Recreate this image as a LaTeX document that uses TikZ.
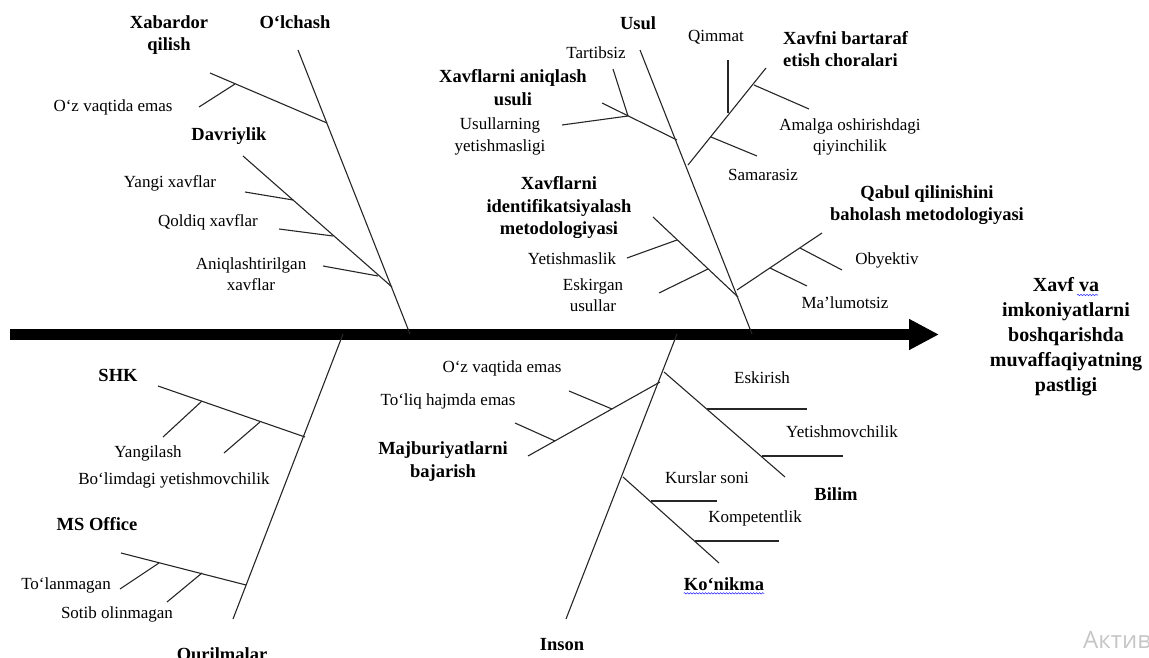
\documentclass[tikz,border=0pt]{standalone}
\usepackage{fontspec}
\setmainfont{Liberation Serif}
\newfontfamily\wmfont{Open Sans}
\usepackage{tikz}
\usetikzlibrary{
    arrows.meta,
    decorations.pathmorphing
}
\tikzstyle{bone} = [
    line width=1.1pt,
    draw=black!85
]
\tikzstyle{spine} = [
    line width=11pt,
    -{Triangle[length=30pt,width=29pt]}
]
\tikzstyle{cause} = [
    inner sep=0pt,
    align=center,
    font=\fontsize{18.5}{22.5}\selectfont\bfseries
]
\tikzstyle{item} = [
    inner sep=0pt,
    align=center,
    font=\fontsize{17}{21.5}\selectfont
]
\tikzstyle{effect} = [
    inner sep=0pt,
    align=center,
    font=\fontsize{20}{25}\selectfont\bfseries
]
\tikzstyle{spell} = [
    draw=blue!80,
    line width=0.6pt,
    decorate,
    decoration={snake, amplitude=0.7pt, segment length=3pt}
]
\tikzstyle{watermark} = [
    inner sep=0pt,
    text=gray!45,
    font=\wmfont\fontsize{24}{28}\selectfont
]

\begin{document}
\begin{tikzpicture}[x=1pt, y=-1pt]
        \useasboundingbox (0,0) rectangle (1149,658);

        % Spine and effect
        \coordinate (tail) at (10,334.5);
        \coordinate (head) at (939,334.5);
        \draw[spine] (tail) -- (head);
        \node[effect] (problem) at (1066,337) {Xavf va\\imkoniyatlarni\\boshqarishda\\muvaffaqiyatning\\pastligi};
        \coordinate (va_l) at (1077,295);
        \coordinate (va_r) at (1098,295);
        \draw[spell] (va_l) -- (va_r);

        % O'lchash
        \coordinate (olch_top) at (298,50);   \coordinate (olch_end) at (410,334);
        \coordinate (xab_top) at (210,73);    \coordinate (xab_end) at (327,123);
        \coordinate (xab1_top) at (199,107);  \coordinate (xab1_end) at (235,84);
        \coordinate (dav_top) at (243,156);   \coordinate (dav_end) at (392,287);
        \coordinate (dav1_top) at (245,192);  \coordinate (dav1_end) at (293,200);
        \coordinate (dav2_top) at (279,229);  \coordinate (dav2_end) at (333,236);
        \coordinate (dav3_top) at (323,266);  \coordinate (dav3_end) at (378,276);
        \draw[bone] (olch_top) -- (olch_end);
        \draw[bone] (xab_top) -- (xab_end);
        \draw[bone] (xab1_top) -- (xab1_end);
        \draw[bone] (dav_top) -- (dav_end);
        \draw[bone] (dav1_top) -- (dav1_end);
        \draw[bone] (dav2_top) -- (dav2_end);
        \draw[bone] (dav3_top) -- (dav3_end);
        \node[cause] (olchash) at (295,22) {O‘lchash};
        \node[cause] (xabardor) at (169,35) {Xabardor\\qilish};
        \node[item] (xab_late) at (113,107) {O‘z vaqtida emas};
        \node[cause] (davriylik) at (229,136) {Davriylik};
        \node[item] (yangi) at (170,183) {Yangi xavflar};
        \node[item] (qoldiq) at (208,222) {Qoldiq xavflar};
        \node[item] (aniq) at (251,274) {Aniqlashtirilgan\\xavflar};

        % Usul
        \coordinate (usul_top) at (640,50);   \coordinate (usul_end) at (752,334);
        \coordinate (xan_top) at (602,103);   \coordinate (xan_end) at (677,140);
        \coordinate (tart_top) at (613,69);   \coordinate (xan_j) at (628,116);
        \coordinate (usl_top) at (562,125);
        \coordinate (bart_top) at (766,68);   \coordinate (bart_end) at (688,165);
        \coordinate (qim_top) at (728,60);    \coordinate (qim_end) at (728,113);
        \coordinate (amal_top) at (809,109);  \coordinate (amal_end) at (754,85);
        \coordinate (sam_top) at (757,156);   \coordinate (sam_end) at (711,137);
        \coordinate (idn_top) at (653,217);   \coordinate (idn_end) at (738,297);
        \coordinate (yet_top) at (627,258);   \coordinate (yet_end) at (677,240);
        \coordinate (esk_top) at (659,293);   \coordinate (esk_end) at (708,269);
        \coordinate (qab_top) at (822,233);   \coordinate (qab_end) at (737,290);
        \coordinate (oby_top) at (842,270);   \coordinate (oby_end) at (800,248);
        \coordinate (mal_top) at (807,286);   \coordinate (mal_end) at (770,268);
        \draw[bone] (usul_top) -- (usul_end);
        \draw[bone] (xan_top) -- (xan_end);
        \draw[bone] (tart_top) -- (xan_j);
        \draw[bone] (usl_top) -- (xan_j);
        \draw[bone] (bart_top) -- (bart_end);
        \draw[bone] (qim_top) -- (qim_end);
        \draw[bone] (amal_top) -- (amal_end);
        \draw[bone] (sam_top) -- (sam_end);
        \draw[bone] (idn_top) -- (idn_end);
        \draw[bone] (yet_top) -- (yet_end);
        \draw[bone] (esk_top) -- (esk_end);
        \draw[bone] (qab_top) -- (qab_end);
        \draw[bone] (oby_top) -- (oby_end);
        \draw[bone] (mal_top) -- (mal_end);
        \node[cause] (usul) at (638,23) {Usul};
        \node[item] (tartibsiz) at (596,53) {Tartibsiz};
        \node[cause] (xav_aniq) at (513,87.5) {Xavflarni aniqlash\\usuli};
        \node[item] (usullar) at (500,136.5) {Usullarning\\yetishmasligi};
        \node[item] (qimmat) at (716,37) {Qimmat};
        \node[cause, align=left, anchor=west] (bartaraf) at (783,49) {Xavfni bartaraf\\etish choralari};
        \node[item] (amalga) at (850,137) {Amalga oshirishdagi\\qiyinchilik};
        \node[item] (samarasiz) at (763,175) {Samarasiz};
        \node[cause] (identif) at (559,208) {Xavflarni\\identifikatsiyalash\\metodologiyasi};
        \node[item] (yetish) at (572,259) {Yetishmaslik};
        \node[item] (eskirgan) at (593,295) {Eskirgan\\usullar};
        \node[cause] (qabul) at (927,205) {Qabul qilinishini\\baholash metodologiyasi};
        \node[item] (obyektiv) at (887,260) {Obyektiv};
        \node[item] (malumot) at (845,303) {Ma’lumotsiz};

        % Qurilmalar
        \coordinate (qur_top) at (343,334);   \coordinate (qur_end) at (233,619);
        \coordinate (shk_top) at (158,386);   \coordinate (shk_end) at (305,437);
        \coordinate (yan_top) at (163,437);   \coordinate (yan_end) at (202,401);
        \coordinate (bol_top) at (224,453);   \coordinate (bol_end) at (260,422);
        \coordinate (mso_top) at (121,553);   \coordinate (mso_end) at (246,585);
        \coordinate (tol_top) at (120,589);   \coordinate (tol_end) at (159,563);
        \coordinate (sot_top) at (167,602);   \coordinate (sot_end) at (202,573);
        \draw[bone] (qur_top) -- (qur_end);
        \draw[bone] (shk_top) -- (shk_end);
        \draw[bone] (yan_top) -- (yan_end);
        \draw[bone] (bol_top) -- (bol_end);
        \draw[bone] (mso_top) -- (mso_end);
        \draw[bone] (tol_top) -- (tol_end);
        \draw[bone] (sot_top) -- (sot_end);
        \node[cause] (shk) at (118,375) {SHK};
        \node[item] (yangilash) at (148,453) {Yangilash};
        \node[item] (bolim) at (174,480) {Bo‘limdagi yetishmovchilik};
        \node[cause] (msoffice) at (97,524) {MS Office};
        \node[item] (tolan) at (66,585) {To‘lanmagan};
        \node[item] (sotib) at (117,614) {Sotib olinmagan};
        \node[cause, anchor=base] (qurilmalar) at (222,660) {Qurilmalar};

        % Inson
        \coordinate (ins_top) at (677,334);   \coordinate (ins_end) at (566,619);
        \coordinate (maj_top) at (528,456);   \coordinate (maj_end) at (660,382);
        \coordinate (ozv_top) at (569,391);   \coordinate (ozv_end) at (612,409);
        \coordinate (tol2_top) at (515,423);  \coordinate (tol2_end) at (555,441);
        \coordinate (bil_top) at (664,372);   \coordinate (bil_end) at (785,477);
        \coordinate (eskr_l) at (707,409);    \coordinate (eskr_r) at (807,409);
        \coordinate (ytm_l) at (762,456);     \coordinate (ytm_r) at (843,456);
        \coordinate (kon_top) at (623,477);   \coordinate (kon_end) at (719,563);
        \coordinate (kur_l) at (651,501);     \coordinate (kur_r) at (717,501);
        \coordinate (kom_l) at (695,541);     \coordinate (kom_r) at (779,541);
        \draw[bone] (ins_top) -- (ins_end);
        \draw[bone] (maj_top) -- (maj_end);
        \draw[bone] (ozv_top) -- (ozv_end);
        \draw[bone] (tol2_top) -- (tol2_end);
        \draw[bone] (bil_top) -- (bil_end);
        \draw[bone] (eskr_l) -- (eskr_r);
        \draw[bone] (ytm_l) -- (ytm_r);
        \draw[bone] (kon_top) -- (kon_end);
        \draw[bone] (kur_l) -- (kur_r);
        \draw[bone] (kom_l) -- (kom_r);
        \node[item] (ins_late) at (502,368) {O‘z vaqtida emas};
        \node[item] (toliq) at (448,401) {To‘liq hajmda emas};
        \node[cause] (majburiyat) at (443,461.5) {Majburiyatlarni\\bajarish};
        \node[item] (eskirish) at (762,378) {Eskirish};
        \node[item] (yetmov) at (842,432) {Yetishmovchilik};
        \node[cause] (bilim) at (836,494) {Bilim};
        \node[item] (kurslar) at (707,478) {Kurslar soni};
        \node[item] (kompet) at (755,518) {Kompetentlik};
        \node[cause] (konikma) at (724,584) {Ko‘nikma};
        \draw[spell] ([yshift=-3pt]konikma.base west) -- ([yshift=-3pt]konikma.base east);
        \node[cause] (inson) at (562,645) {Inson};

        % Watermark
        \node[watermark, anchor=base west] (wm) at (1083,648) {Активация Windows};
    \end{tikzpicture}
\end{document}
